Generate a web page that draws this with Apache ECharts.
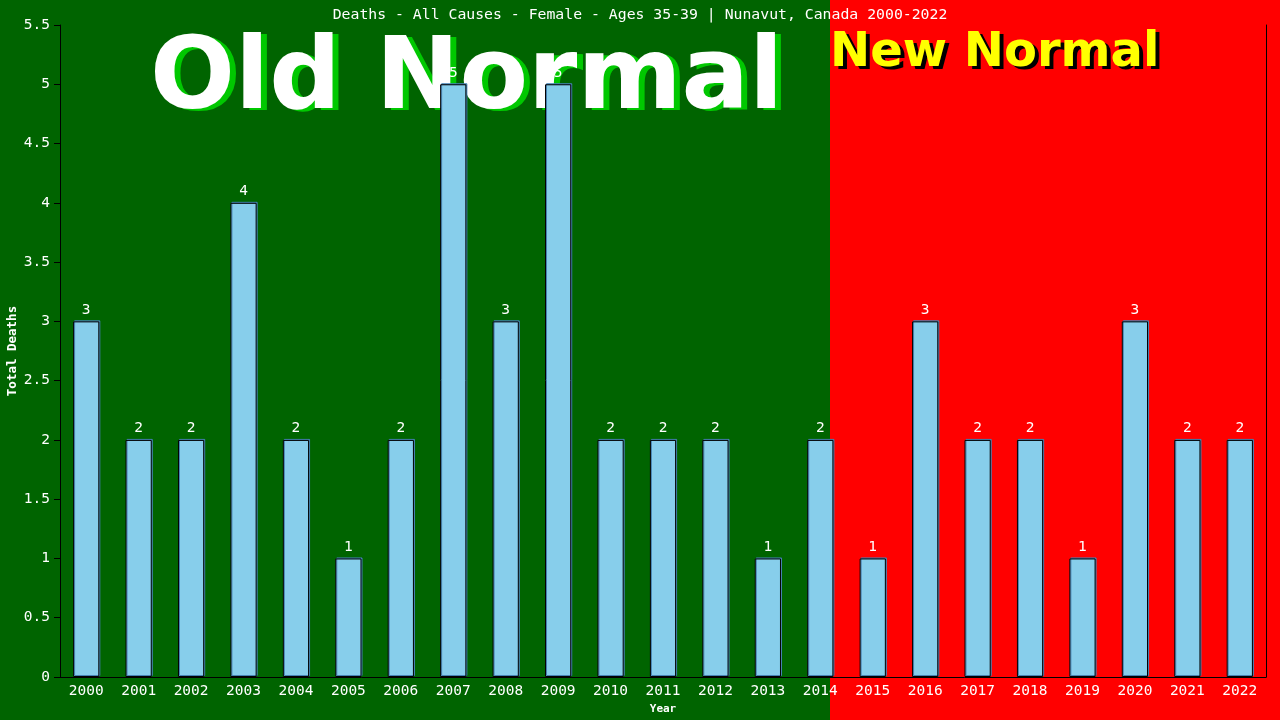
<!DOCTYPE html>
<html>
<head>
<meta charset="utf-8">
<script src="https://cdn.jsdelivr.net/npm/echarts@6/dist/echarts.min.js"></script>
<style>
  html, body { margin: 0; padding: 0; background: #006400; }
  #chart { width: 1280px; height: 720px; }
</style>
</head>
<body>
<div id="chart"></div>
<script>
// data
const years = ['2000', '2001', '2002', '2003', '2004', '2005', '2006', '2007', '2008', '2009', '2010', '2011',
  '2012', '2013', '2014', '2015', '2016', '2017', '2018', '2019', '2020', '2021', '2022'];
const deaths = [3, 2, 2, 4, 2, 1, 2, 5, 3, 5, 2, 2, 2, 1, 2, 1, 3, 2, 2, 1, 3, 2, 2];

const titleText = 'Deaths - All Causes - Female - Ages 35-39 | Nunavut, Canada 2000-2022';
const mono = '"DejaVu Sans Mono", "Liberation Mono", monospace';
const bigFont = '"DejaVu Sans", Verdana, sans-serif';

const chart = echarts.init(document.getElementById('chart'));

chart.setOption({
  animation: false,
  backgroundColor: '#006400',
  title: {
    text: titleText,
    left: 'center',
    top: 3,
    textStyle: { color: '#ffffff', fontFamily: mono, fontSize: 14.8, fontWeight: 'normal' },
  },
  graphic: [
    // old / new period backgrounds
    { type: 'rect', left: 0, top: 0, z: -10, shape: { width: 830, height: 720 }, style: { fill: '#006400' } },
    { type: 'rect', left: 830, top: 0, z: -10, shape: { width: 450, height: 720 }, style: { fill: '#ff0000' } },
    // big captions, shadow drawn as an offset copy
    { type: 'text', left: 156, top: 34, z: -6, style: { text: 'Old Normal', fill: '#00c800', font: 'bold 100px ' + bigFont } },
    { type: 'text', left: 150, top: 32, z: -5, style: { text: 'Old Normal', fill: '#ffffff', font: 'bold 100px ' + bigFont } },
    { type: 'text', left: 834, top: 33, z: -6, style: { text: 'New Normal', fill: '#000000', font: 'bold 48px ' + bigFont } },
    { type: 'text', left: 830, top: 30, z: -5, style: { text: 'New Normal', fill: '#ffff00', font: 'bold 48px ' + bigFont } },
  ],
  grid: { left: 60, right: 14, top: 25, bottom: 43, outerBoundsMode: 'none', containLabel: false },
  xAxis: {
    type: 'category',
    data: years,
    name: 'Year',
    nameLocation: 'middle',
    nameGap: 27,
    nameMoveOverlap: false,
    nameTextStyle: { color: '#ffffff', fontFamily: mono, fontSize: 11, fontWeight: 'bold' },
    axisLine: { lineStyle: { color: '#000000', width: 1 } },
    axisTick: { show: false },
    axisLabel: { color: '#ffffff', fontFamily: mono, fontSize: 14.5, margin: 7, interval: 0 },
  },
  yAxis: [
    {
      type: 'value',
      min: 0,
      max: 5.5,
      interval: 0.5,
      name: 'Total Deaths',
      nameLocation: 'middle',
      nameGap: 41,
      nameMoveOverlap: false,
      nameTextStyle: { color: '#ffffff', fontFamily: mono, fontSize: 12.5, fontWeight: 'bold' },
      axisLine: { show: true, lineStyle: { color: '#000000', width: 1 } },
      axisTick: { show: true, length: 6, lineStyle: { color: '#000000' } },
      axisLabel: { color: '#ffffff', fontFamily: mono, fontSize: 14.5, margin: 10 },
      splitLine: { show: false },
    },
    {
      type: 'value',
      min: 0,
      max: 5.5,
      interval: 0.5,
      position: 'right',
      axisLine: { show: true, lineStyle: { color: '#000000', width: 1 } },
      axisTick: { show: false },
      axisLabel: { show: false },
      splitLine: { show: false },
    },
  ],
  series: [
    {
      type: 'bar',
      data: deaths,
      barWidth: '50%',
      itemStyle: {
        color: '#87ceeb',
        borderColor: '#000000',
        borderWidth: 1,
        shadowColor: '#4682b4',
        shadowOffsetX: 1,
        shadowOffsetY: -1,
        shadowBlur: 0,
      },
      label: {
        show: true,
        position: 'top',
        distance: 4,
        color: '#ffffff',
        fontFamily: mono,
        fontSize: 14.5,
      },
    },
  ],
});
</script>
</body>
</html>
